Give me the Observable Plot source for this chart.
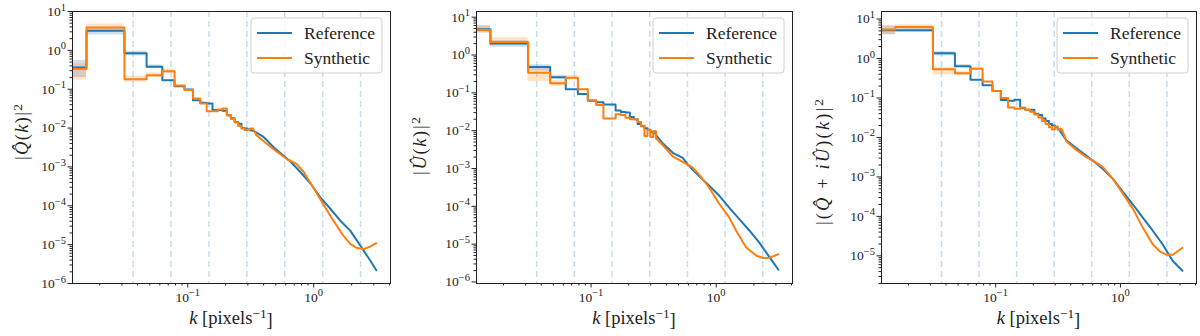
<!DOCTYPE html>
<html>
<head>
<meta charset="utf-8">
<script src="https://cdn.jsdelivr.net/npm/d3@7"></script>
<script src="https://cdn.jsdelivr.net/npm/@observablehq/plot@0.6"></script>
<style>
  body { margin: 0; background: #fff; }
  #row { display: flex; width: 1200px; height: 336px; overflow: hidden; }
  #row svg { flex: none; }
  #row svg text, #row svg tspan { font-family: "Liberation Serif" !important; }
</style>
</head>
<body>
<div id="row"></div>
<script>
// ---------------- data ----------------
const DK = 2 * Math.PI / 400;          // bin width in k
const K_MIN = 1e-3;                    // stands in for k = 0 (clipped at the frame)
const dashK = [0.0368, 0.0736, 0.1473, 0.2945, 0.589, 1.178, 2.356];
const seriesNames = ["Reference", "Synthetic"];
const seriesColors = ["#1f77b4", "#ff7f0e"];
const xDomain = [0.01216, 4.07];
const xMajor = [0.1, 1];
const xMinor = [0.02,0.03,0.04,0.05,0.06,0.07,0.08,0.09,0.2,0.3,0.4,0.5,0.6,0.7,0.8,0.9,2,3,4];

// Panel 1 : |Q(k)|^2
const qRefBins = [0.36, 3.2, 0.84, 0.38, 0.17, 0.12, 0.099, 0.052, 0.045, 0.043, 0.029, 0.029, 0.028, 0.0215, 0.018, 0.0143, 0.013, 0.0101, 0.0097, 0.0093, 0.0086];
const qSynBins = [0.33, 3.9, 0.18, 0.23, 0.29, 0.125, 0.095, 0.058, 0.043, 0.027, 0.027, 0.030, 0.032, 0.0215, 0.017, 0.014, 0.0113, 0.0097, 0.0089, 0.0093, 0.0097];
const qRefTailK = [0.33, 0.40, 0.48, 0.57, 0.65, 0.78, 0.94, 1.12, 1.35, 1.62, 1.95, 2.34, 2.81, 3.14];
const qRefTail  = [8.6e-3, 5.9e-3, 3.2e-3, 2.0e-3, 1.4e-3, 7.5e-4, 3.8e-4, 1.7e-4, 8.5e-5, 4.2e-5, 2.3e-5, 9.5e-6, 3.9e-6, 2.2e-6];
const qSynTailK = [0.33, 0.35, 0.42, 0.51, 0.61, 0.73, 0.83, 0.99, 1.19, 1.43, 1.72, 1.95, 2.2, 2.49, 2.81, 3.14];
const qSynTail  = [9.7e-3, 6.6e-3, 4.0e-3, 2.45e-3, 1.6e-3, 1.2e-3, 7.5e-4, 3.0e-4, 1.1e-4, 4.2e-5, 1.7e-5, 1.05e-5, 8.2e-6, 7.7e-6, 8.9e-6, 1.09e-5];
const qRefLo = [0.2, 2.5, 0.72, 0.34], qRefHi = [0.55, 3.6, 0.95, 0.42];
const qSynLo = [0.17, 3.2, 0.15, 0.2, 0.25], qSynHi = [0.45, 4.8, 0.22, 0.26, 0.33];

// Panel 2 : |U(k)|^2
const uRefBins = [4.8, 2.0, 0.48, 0.26, 0.125, 0.093, 0.062, 0.056, 0.049, 0.049, 0.034, 0.031, 0.03, 0.023, 0.02, 0.015, 0.013, 0.0115, 0.0105, 0.0092, 0.0085];
const uSynBins = [4.6, 2.2, 0.34, 0.18, 0.25, 0.125, 0.064, 0.048, 0.021, 0.021, 0.027, 0.026, 0.022, 0.020, 0.020, 0.017, 0.0135, 0.0072, 0.0105, 0.0068, 0.0098];
const uRefTailK = [0.33, 0.37, 0.45, 0.54, 0.59, 0.73, 0.88, 1.06, 1.27, 1.53, 1.84, 2.21, 2.66, 3.14];
const uRefTail  = [7.8e-3, 4.8e-3, 2.6e-3, 1.9e-3, 1.3e-3, 6.3e-4, 3.5e-4, 1.9e-4, 9.3e-5, 4.6e-5, 2.3e-5, 1.1e-5, 4.6e-6, 2.1e-6];
const uSynTailK = [0.33, 0.37, 0.45, 0.54, 0.65, 0.73, 0.88, 1.06, 1.27, 1.44, 1.73, 2.08, 2.36, 2.66, 3.14];
const uSynTail  = [6.3e-3, 4.3e-3, 2.1e-3, 1.5e-3, 1.05e-3, 6.9e-4, 3.1e-4, 1.15e-4, 5.1e-5, 2.3e-5, 8.3e-6, 5.0e-6, 4.3e-6, 4.4e-6, 5.4e-6];
const uRefLo = [3.8, 1.6, 0.38, 0.23], uRefHi = [6.0, 2.4, 0.55, 0.29];
const uSynLo = [3.8, 1.8, 0.2, 0.15, 0.22], uSynHi = [5.8, 2.9, 0.45, 0.21, 0.29];

// Panel 3 : |(Q + iU)(k)|^2
const cRefBins = [5.2, 5.2, 1.35, 0.64, 0.29, 0.21, 0.15, 0.089, 0.085, 0.09, 0.055, 0.05, 0.05, 0.04, 0.037, 0.03, 0.026, 0.022, 0.02, 0.018, 0.016];
const cSynBins = [5.4, 6.3, 0.53, 0.42, 0.55, 0.26, 0.15, 0.10, 0.057, 0.053, 0.057, 0.05, 0.045, 0.038, 0.032, 0.026, 0.022, 0.018, 0.016, 0.019, 0.016];
const cRefTailK = [0.33, 0.37, 0.44, 0.53, 0.60, 0.72, 0.87, 1.05, 1.26, 1.51, 1.81, 2.17, 2.63, 3.14];
const cRefTail  = [0.0141, 0.0083, 0.0055, 0.0035, 0.0026, 0.0016, 8.9e-4, 4.1e-4, 2.0e-4, 9.3e-5, 4.4e-5, 2.0e-5, 7.4e-6, 4.2e-6];
const cSynTailK = [0.33, 0.34, 0.37, 0.44, 0.53, 0.64, 0.72, 0.87, 1.05, 1.26, 1.51, 1.81, 2.06, 2.33, 2.63, 3.14];
const cSynTail  = [0.0166, 0.0158, 0.0079, 0.0049, 0.0032, 0.0023, 0.0018, 8.9e-4, 3.7e-4, 1.55e-4, 5.2e-5, 2.0e-5, 1.3e-5, 1.07e-5, 1.07e-5, 1.6e-5];
const cRefLo = [4.0, 4.6, 1.15, 0.58], cRefHi = [6.8, 5.8, 1.5, 0.7];
const cSynLo = [4.0, 5.5, 0.38, 0.37, 0.5], cSynHi = [6.5, 7.2, 0.6, 0.46, 0.6];

// ---------------- helpers ----------------
const FONT = "Liberation Serif";
const TICK_FS = 13.5, LABEL_FS = 18.5, LEGEND_FS = 17.5;
const edge = i => (i === 0 ? K_MIN : i * DK);
function stepRows(bins, tailK, tailV) {
  const rows = bins.map((v, i) => ({k: edge(i), v}));
  rows.push({k: tailK[0], v: tailV[0]});
  return rows;
}
const tailRows = (tk, tv) => tk.map((k, i) => ({k, v: tv[i]}));
function bandRows(lo, hi) {
  const rows = lo.map((l, i) => ({k: edge(i), lo: l, hi: hi[i]}));
  rows.push({k: lo.length * DK, lo: lo[lo.length - 1], hi: hi[hi.length - 1]});
  return rows;
}
const powFmt = d => "10^" + String(Math.round(Math.log10(d))).replace("-", "\u2212");
function decadeMinors(lo, hi) {
  const out = [];
  for (let e = lo; e <= hi; e++) for (let m = 2; m <= 9; m++) out.push(m * 10 ** e);
  return out;
}

function supify(svg) {
  d3.select(svg).selectAll("text").each(function () {
    const t = this.textContent;
    const m = t.match(/^(.*)\^(.+)$/);
    if (!m || this.querySelector("tspan")) return;
    const s = d3.select(this);
    s.text(null);
    s.append("tspan").text(m[1]);
    s.append("tspan").attr("dy", "-0.5em").attr("font-size", "0.78em").text(m[2]);
  });
}

function addParts(sel, parts) {
  for (const p of parts) {
    const t = sel.append("tspan").text(p.t);
    if (p.i) t.attr("font-style", "italic");
    if (p.sup) t.attr("dy", "-0.45em").attr("font-size", "0.72em");
    if (p.down) t.attr("dy", "0.45em");
  }
}

function panel(cfg) {
  const {ml, mr, yDomain, yMajor, yMinor} = cfg;
  const W = 400, H = 336, mt = 11, mb = 53;
  const refRows = stepRows(cfg.refBins, cfg.refTailK, cfg.refTail);
  const synRows = stepRows(cfg.synBins, cfg.synTailK, cfg.synTail);
  const svg = Plot.plot({
    width: W, height: H,
    marginLeft: ml, marginRight: mr, marginTop: mt, marginBottom: mb,
    style: {fontFamily: FONT, fontSize: TICK_FS + "px", background: "#fff", color: "#222"},
    x: {type: "log", domain: xDomain},
    y: {type: "log", domain: yDomain},
    marks: [
      Plot.ruleX(dashK, {stroke: seriesColors[0], strokeOpacity: 0.25, strokeWidth: 1.5, strokeDasharray: "6,4"}),
      Plot.areaY(bandRows(cfg.refLo, cfg.refHi), {x: "k", y1: "lo", y2: "hi", curve: "step-after", fill: seriesColors[0], fillOpacity: 0.22, clip: true}),
      Plot.areaY(bandRows(cfg.synLo, cfg.synHi), {x: "k", y1: "lo", y2: "hi", curve: "step-after", fill: seriesColors[1], fillOpacity: 0.22, clip: true}),
      Plot.line(refRows, {x: "k", y: "v", curve: "step-after", stroke: seriesColors[0], strokeWidth: 2, clip: true}),
      Plot.line(tailRows(cfg.refTailK, cfg.refTail), {x: "k", y: "v", stroke: seriesColors[0], strokeWidth: 2, clip: true}),
      Plot.line(synRows, {x: "k", y: "v", curve: "step-after", stroke: seriesColors[1], strokeWidth: 2, clip: true}),
      Plot.line(tailRows(cfg.synTailK, cfg.synTail), {x: "k", y: "v", stroke: seriesColors[1], strokeWidth: 2, clip: true}),
      Plot.axisX(xMajor, {tickSize: 4.5, tickPadding: 4, tickFormat: powFmt, label: null, stroke: "#222", fontSize: TICK_FS, fontFamily: FONT}),
      Plot.axisX(xMinor, {tickSize: 2.5, text: null, label: null, stroke: "#222"}),
      Plot.axisY(yMajor, {tickSize: 4.5, tickPadding: 2, tickFormat: powFmt, label: null, stroke: "#222", fontSize: TICK_FS, fontFamily: FONT}),
      Plot.axisY(yMinor.filter(v => v >= yDomain[0] && v <= yDomain[1]), {tickSize: 2.5, text: null, label: null, stroke: "#222"}),
      Plot.frame({stroke: "#222", strokeWidth: 1})
    ]
  });
  svg.setAttribute("font-family", FONT);
  svg.style.fontFamily = FONT;
  supify(svg);
  const root = d3.select(svg);
  const fr = W - mr, cx = (ml + fr) / 2;
  // x label
  const xl = root.append("text").attr("x", cx).attr("y", 324).attr("text-anchor", "middle")
    .attr("font-family", FONT).attr("font-size", LABEL_FS).attr("fill", "#222");
  addParts(xl, [{t: "k", i: true}, {t: " [pixels"}, {t: "\u22121", sup: true}, {t: "]", down: true}]);
  // y label
  const yl = root.append("text").attr("transform", `translate(${cfg.ylx},${cfg.yly}) rotate(-90)`)
    .attr("text-anchor", "middle").attr("dy", "0.35em").attr("font-family", FONT).attr("font-size", LABEL_FS)
    .attr("fill", "#222").attr("textLength", cfg.ylLen).attr("lengthAdjust", "spacing");
  addParts(yl, cfg.yLabel);
  // legend
  const lw = 131, lh = 55, lx = fr - 8 - lw, ly = mt + 7;
  const g = root.append("g").attr("text-anchor", "start");
  g.append("rect").attr("x", lx).attr("y", ly).attr("width", lw).attr("height", lh).attr("rx", 3)
    .attr("fill", "#fff").attr("fill-opacity", 0.8).attr("stroke", "#d0d0d0");
  seriesNames.forEach((name, i) => {
    const yy = ly + 15 + i * 25;
    g.append("line").attr("x1", lx + 6).attr("x2", lx + 41).attr("y1", yy).attr("y2", yy)
      .attr("stroke", seriesColors[i]).attr("stroke-width", 2);
    g.append("text").attr("x", lx + 53).attr("y", yy).attr("dy", "0.35em").attr("font-size", LEGEND_FS)
      .attr("font-family", FONT).attr("text-anchor", "start").attr("fill", "#222").text(name);
  });
  return svg;
}

const row = document.getElementById("row");
row.append(panel({
  ml: 72, mr: 10, ylx: 22, yly: 132, ylLen: 56,
  yDomain: [1e-6, 10], yMajor: [1e-6,1e-5,1e-4,1e-3,1e-2,1e-1,1,10], yMinor: decadeMinors(-6, 0),
  refBins: qRefBins, synBins: qSynBins, refTailK: qRefTailK, refTail: qRefTail, synTailK: qSynTailK, synTail: qSynTail,
  refLo: qRefLo, refHi: qRefHi, synLo: qSynLo, synHi: qSynHi,
  yLabel: [{t: "|"}, {t: "Q\u0302", i: true}, {t: "("}, {t: "k", i: true}, {t: ")|"}, {t: "2", sup: true}]
}));
row.append(panel({
  ml: 76, mr: 8, ylx: 20, yly: 146, ylLen: 58,
  yDomain: [10 ** -6.04, 10 ** 1.15], yMajor: [1e-6,1e-5,1e-4,1e-3,1e-2,1e-1,1,10], yMinor: decadeMinors(-7, 1),
  refBins: uRefBins, synBins: uSynBins, refTailK: uRefTailK, refTail: uRefTail, synTailK: uSynTailK, synTail: uSynTail,
  refLo: uRefLo, refHi: uRefHi, synLo: uSynLo, synHi: uSynHi,
  yLabel: [{t: "|"}, {t: "U\u0302", i: true}, {t: "("}, {t: "k", i: true}, {t: ")|"}, {t: "2", sup: true}]
}));
row.append(panel({
  ml: 81, mr: 4, ylx: 23, yly: 162, ylLen: 126,
  yDomain: [10 ** -5.70, 10 ** 1.19], yMajor: [1e-5,1e-4,1e-3,1e-2,1e-1,1,10], yMinor: decadeMinors(-6, 1),
  refBins: cRefBins, synBins: cSynBins, refTailK: cRefTailK, refTail: cRefTail, synTailK: cSynTailK, synTail: cSynTail,
  refLo: cRefLo, refHi: cRefHi, synLo: cSynLo, synHi: cSynHi,
  yLabel: [{t: "|("}, {t: "Q\u0302", i: true}, {t: " + "}, {t: "i", i: true}, {t: "U\u0302", i: true}, {t: ")("}, {t: "k", i: true}, {t: ")|"}, {t: "2", sup: true}]
}));
</script>
</body>
</html>
